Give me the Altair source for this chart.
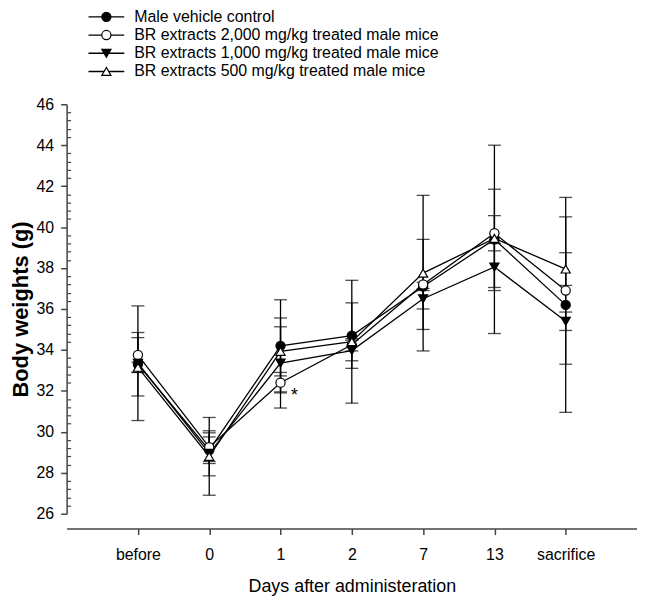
import altair as alt
import pandas as pd

# ---------------- data ----------------
days = ["before", "0", "1", "2", "7", "13", "sacrifice"]
series = [
    "Male vehicle control",
    "BR extracts 2,000 mg/kg treated male mice",
    "BR extracts 1,000 mg/kg treated male mice",
    "BR extracts 500 mg/kg treated male mice",
]

ctrl_mean = [33.30, 29.10, 34.20, 34.70, 37.10, 39.40, 36.20]
ctrl_sd = [1.55, 0.65, 2.25, 1.60, 0.20, 4.60, 5.25]

br2000_mean = [33.75, 29.25, 32.40, 34.25, 37.20, 39.70, 36.90]
br2000_sd = [0.85, 0.70, 0.50, 0.30, 2.20, 0.86, 3.60]

br1000_mean = [33.35, 28.95, 33.36, 33.97, 36.50, 38.05, 35.40]
br1000_sd = [2.80, 1.10, 2.20, 0.50, 0.50, 1.15, 0.45]

br500_mean = [33.15, 28.80, 33.93, 34.40, 37.75, 39.45, 37.95]
br500_sd = [0.25, 1.90, 1.20, 3.00, 3.80, 2.40, 0.80]

annot_day = ["1"]
annot_value = [31.95]
annot_text = ["*"]

shapes = ["circle", "circle", "triangle-down", "triangle-up"]
fills = ["black", "white", "black", "white"]

# ---------------- tables ----------------
means = [ctrl_mean, br2000_mean, br1000_mean, br500_mean]
sds = [ctrl_sd, br2000_sd, br1000_sd, br500_sd]
rows = []
for s, m_list, sd_list in zip(series, means, sds):
    for d, m, sd in zip(days, m_list, sd_list):
        rows.append({"series": s, "day": d, "mean": m,
                     "lo": round(m - sd, 3), "hi": round(m + sd, 3)})
df = pd.DataFrame(rows)
annot_df = pd.DataFrame({"day": annot_day, "value": annot_value, "label": annot_text})
leg_df = pd.DataFrame({"series": series})

minor_vals = [round(26 + 0.4 * i, 1) for i in range(51) if i % 5 != 0]

# ---------------- scales / axes ----------------
AX = "#444444"
x_scale = alt.Scale(type="point", padding=1, domain=days)
y_scale = alt.Scale(domain=[26, 46], nice=False, zero=False)

x_axis = alt.Axis(title="Days after administeration", titleFontSize=18,
                  titleFontWeight="normal", titleColor="black", titlePadding=15,
                  labelFontSize=16, labelColor="black", labelPadding=12, labelAngle=0,
                  domainColor=AX, domainWidth=1.5, tickColor=AX, tickWidth=1.5,
                  tickSize=6, offset=15, grid=False)
y_axis = alt.Axis(title="Body weights (g)", titleFontSize=22, titleFontWeight="bold",
                  titleColor="black", titlePadding=4, labelFontSize=16,
                  labelColor="black", labelPadding=7, values=list(range(26, 47, 2)),
                  domainColor=AX, domainWidth=1.5, tickColor=AX, tickWidth=1.5,
                  tickSize=6, grid=False)
minor_axis = alt.Axis(orient="left", values=minor_vals, labels=False, domain=False,
                      ticks=True, tickSize=4, tickColor=AX, tickWidth=1.2,
                      offset=-4, title=None, grid=False)

X = alt.X("day:O", sort=days, scale=x_scale, axis=x_axis)
shape_enc = alt.Shape("series:N", scale=alt.Scale(domain=series, range=shapes), legend=None)
fill_enc = alt.Fill("series:N", scale=alt.Scale(domain=series, range=fills), legend=None)

base = alt.Chart(df)
rules = base.mark_rule(color="black", strokeWidth=1.3).encode(
    x=X, y=alt.Y("lo:Q", scale=y_scale, axis=y_axis), y2="hi:Q")
caps_lo = base.mark_tick(color="black", size=13, thickness=1.3).encode(
    x=X, y=alt.Y("lo:Q", scale=y_scale, axis=y_axis))
caps_hi = base.mark_tick(color="black", size=13, thickness=1.3).encode(
    x=X, y=alt.Y("hi:Q", scale=y_scale, axis=y_axis))
lines = base.mark_line(color="black", strokeWidth=1.3).encode(
    x=X, y=alt.Y("mean:Q", scale=y_scale, axis=y_axis), detail="series:N")
points = base.mark_point(filled=True, size=85, stroke="black", strokeWidth=1.2,
                         opacity=1).encode(
    x=X, y=alt.Y("mean:Q", scale=y_scale, axis=y_axis), shape=shape_enc, fill=fill_enc)

main = alt.layer(rules, caps_lo, caps_hi, lines, points)

ast = alt.Chart(annot_df).mark_text(fontSize=18, dx=14, dy=4, color="black",
                                    align="center", baseline="middle").encode(
    x=X, y=alt.Y("value:Q", scale=y_scale, axis=minor_axis), text="label:N")

leg_y = alt.Y("series:N", sort=series,
              scale=alt.Scale(type="point", domain=series, range=[-88, -33], padding=0),
              axis=None)
leg_base = alt.Chart(leg_df)
leg_rule = leg_base.mark_rule(color="black", strokeWidth=1.3).encode(
    x=alt.value(22), x2=alt.value(58), y=leg_y)
leg_pt = leg_base.mark_point(filled=True, size=85, stroke="black", strokeWidth=1.2,
                             opacity=1).encode(
    x=alt.value(40), y=leg_y, shape=shape_enc, fill=fill_enc)
leg_txt = leg_base.mark_text(align="left", baseline="middle", fontSize=16,
                             color="black").encode(
    x=alt.value(68), y=leg_y, text="series:N")
legend = alt.layer(leg_rule, leg_pt, leg_txt)

chart = alt.layer(main, ast, legend).resolve_scale(y="independent").properties(
    width=574, height=412,
    autosize=alt.AutoSizeParams(type="none"),
    padding={"left": 59, "top": 95, "right": 0, "bottom": 86},
).configure(font="Liberation Sans").configure_view(strokeWidth=0)

chart.save("out.html", embed_options={"renderer": "svg", "actions": False})
